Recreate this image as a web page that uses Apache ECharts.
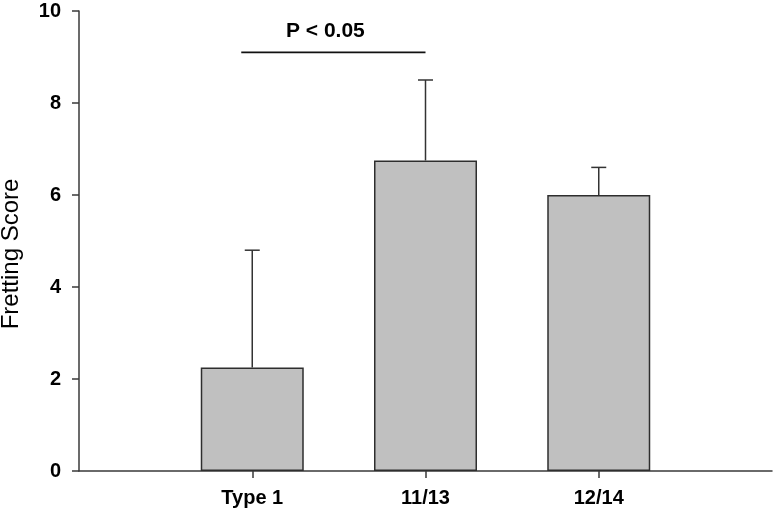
<!DOCTYPE html>
<html>
<head>
<meta charset="utf-8">
<script src="https://cdn.jsdelivr.net/npm/echarts@6/dist/echarts.min.js"></script>
<style>
html,body{margin:0;padding:0;background:#fff;}
#c{width:774px;height:515px;}
</style>
</head>
<body>
<div id="c"></div>
<script>
const categories = ['Type 1', '11/13', '12/14'];
const means = [2.25, 6.75, 6.0];
const errorTops = [4.8, 8.5, 6.6];
const yTicks = [0, 2, 4, 6, 8, 10];
const sigPair = ['Type 1', '11/13'];
const sigLevel = 9.1;
const sigLabel = 'P < 0.05';

const axisCats = [' '].concat(categories).concat(['  ']);
const isReal = (i) => i > 0 && i < axisCats.length - 1;
const FONT = "'Liberation Sans', Arial, sans-serif";
const AX = '#3a3a3a';
const sigIdx = sigPair.map(c => axisCats.indexOf(c));

const chart = echarts.init(document.getElementById('c'));
chart.setOption({
  animation: false,
  backgroundColor: '#fff',
  grid: { left: 79, right: 2, top: 11, bottom: 44, containLabel: false, outerBoundsMode: 'none' },
  xAxis: {
    type: 'category',
    data: axisCats,
    boundaryGap: false,
    axisLine: { lineStyle: { color: AX, width: 1.5 } },
    axisTick: { length: 7, lineStyle: { color: AX, width: 1.5 }, interval: (i) => isReal(i) },
    axisLabel: { interval: (i) => isReal(i), margin: 17, color: '#000', fontSize: 20, fontWeight: 'bold', fontFamily: FONT },
    splitLine: { show: false }
  },
  yAxis: {
    type: 'value',
    min: yTicks[0], max: yTicks[yTicks.length - 1], interval: yTicks[1] - yTicks[0],
    name: 'Fretting Score',
    nameLocation: 'middle',
    nameGap: 56,
    nameTextStyle: { color: '#000', fontSize: 24, fontFamily: FONT, padding: [0, 26, 0, 0] },
    axisLine: { show: true, lineStyle: { color: AX, width: 1.5 } },
    axisTick: { show: true, length: 7, lineStyle: { color: AX, width: 1.5 } },
    axisLabel: { margin: 18, color: '#000', fontSize: 20, fontWeight: 'bold', fontFamily: FONT },
    splitLine: { show: false }
  },
  series: [
    {
      type: 'bar',
      data: categories.map((c, i) => [c, means[i]]),
      barWidth: 103,
      itemStyle: { color: '#c0c0c0', borderColor: '#2e2e2e', borderWidth: 1.5 },
      z: 2
    },
    {
      type: 'custom',
      data: categories.map((c, i) => [c, means[i], errorTops[i]]),
      renderItem: function (params, api) {
        const base = api.coord([api.value(0), api.value(1)]);
        const top = api.coord([api.value(0), api.value(2)]);
        const cap = 7.5;
        const st = { stroke: '#333', lineWidth: 1.5 };
        return {
          type: 'group',
          children: [
            { type: 'line', shape: { x1: base[0], y1: base[1], x2: top[0], y2: top[1] }, style: st },
            { type: 'line', shape: { x1: top[0] - cap, y1: top[1], x2: top[0] + cap, y2: top[1] }, style: st }
          ]
        };
      },
      z: 3
    },
    {
      type: 'custom',
      data: [[sigIdx[0], sigLevel, sigIdx[1]]],
      renderItem: function (params, api) {
        const a = api.coord([api.value(0), api.value(1)]);
        const b = api.coord([api.value(2), api.value(1)]);
        const x1 = a[0] - 11;
        const x2 = b[0];
        return {
          type: 'group',
          children: [
            { type: 'line', shape: { x1: x1, y1: a[1], x2: x2, y2: a[1] }, style: { stroke: '#111', lineWidth: 1.8 } },
            { type: 'text', x: (x1 + x2) / 2 - 8, y: a[1] - 21,
              style: { text: sigLabel, fill: '#000', font: "bold 21px " + FONT, align: 'center', verticalAlign: 'middle' } }
          ]
        };
      },
      z: 4
    }
  ]
});
</script>
</body>
</html>
